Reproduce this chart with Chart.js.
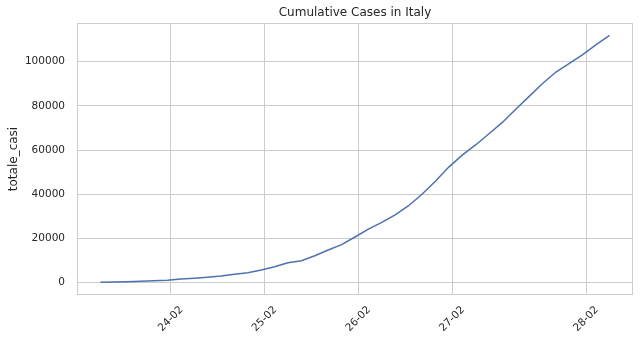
<!DOCTYPE html>
<html>
<head>
<meta charset="utf-8">
<script src="https://cdn.jsdelivr.net/npm/chart.js@4"></script>
<style>
html, body { margin: 0; padding: 0; background: #fff; }
</style>
</head>
<body>
<canvas id="myChart" width="640" height="341"></canvas>
<script>
const dates = [
    '24-02', '25-02', '26-02', '27-02', '28-02', '29-02',
    '01-03', '02-03', '03-03', '04-03', '05-03', '06-03', '07-03', '08-03',
    '09-03', '10-03', '11-03', '12-03', '13-03', '14-03', '15-03', '16-03',
    '17-03', '18-03', '19-03', '20-03', '21-03', '22-03', '23-03', '24-03',
    '25-03', '26-03', '27-03', '28-03', '29-03', '30-03', '31-03',
    '01-04', '02-04',
];
const totaleCasi = [
    200, 300, 400, 600, 850, 1100,
    1650, 2000, 2450, 3000, 3750, 4500, 5750, 7200,
    8950, 9900, 12150, 14750, 17200, 20650, 24200, 27300,
    30700, 34800, 40000, 45900, 52300, 57700, 62300, 67400,
    72500, 78500, 84300, 90100, 95300, 99200, 103200,
    107700, 111900,
];
// tick positions in days from the first sample, labels as printed on the chart
const xTickPositions = [5.25, 12.25, 19.25, 26.25, 36.25];
const xTickLabels = ['24-02', '25-02', '26-02', '27-02', '28-02'];
const yTicks = [0, 20000, 40000, 60000, 80000, 100000];
const chartTitle = 'Cumulative Cases in Italy';

const textColor = '#262626';
const gridColor = '#cccccc';
const fontFamily = '"DejaVu Sans", sans-serif';

// frame, title centred on the plot, and 45deg centred x labels (matplotlib style)
const frameAndLabels = {
    id: 'frameAndLabels',
    afterDraw(chart) {
        const { ctx, chartArea: a } = chart;
        const x = chart.scales.x;
        ctx.save();
        ctx.strokeStyle = gridColor;
        ctx.lineWidth = 1;
        ctx.strokeRect(a.left + 0.5, a.top + 0.5, a.right - a.left - 1, a.bottom - a.top - 1);
        ctx.fillStyle = textColor;
        ctx.textAlign = 'center';
        ctx.textBaseline = 'middle';
        ctx.font = '12px ' + fontFamily;
        ctx.fillText(chartTitle, (a.left + a.right) / 2, 13);
        ctx.font = '10.5px ' + fontFamily;
        x.ticks.forEach((t, i) => {
            const px = x.getPixelForValue(t.value);
            ctx.save();
            ctx.translate(px, a.bottom + 24);
            ctx.rotate(-Math.PI / 4);
            ctx.fillText(xTickLabels[i], 0, 0);
            ctx.restore();
        });
        ctx.restore();
    },
};

const data = {
    datasets: [
        {
            label: 'totale_casi',
            data: totaleCasi.map((v, i) => ({ x: i, y: v })),
            borderColor: '#4c72b0',
            borderWidth: 1.5,
            pointRadius: 0,
            tension: 0,
            fill: false,
        },
    ],
};

const config = {
    type: 'line',
    data: data,
    options: {
        responsive: false,
        animation: false,
        layout: {
            padding: { left: 0, right: 7, top: 23, bottom: 0 },
        },
        plugins: {
            legend: false,
            tooltip: { enabled: false },
            title: { display: false },
        },
        scales: {
            x: {
                type: 'linear',
                min: -1.75,
                max: 39.75,
                afterBuildTicks: (scale) => {
                    scale.ticks = xTickPositions.map((v) => ({ value: v }));
                },
                afterFit: (scale) => {
                    scale.height = 46;
                },
                ticks: { display: false },
                grid: { color: gridColor, drawTicks: false },
                border: { display: false },
            },
            y: {
                min: -5600,
                max: 117500,
                afterBuildTicks: (scale) => {
                    scale.ticks = yTicks.map((v) => ({ value: v }));
                },
                afterFit: (scale) => {
                    scale.width = 77;
                },
                ticks: {
                    color: textColor,
                    padding: 12,
                    font: { family: fontFamily, size: 10.5 },
                    callback: (v) => String(v),
                },
                grid: { color: gridColor, drawTicks: false },
                border: { display: false },
                title: {
                    display: true,
                    text: 'totale_casi',
                    color: textColor,
                    font: { family: fontFamily, size: 12 },
                    padding: { top: 7, bottom: 0 },
                },
            },
        },
    },
    plugins: [frameAndLabels],
};

var myChart = new Chart(document.getElementById('myChart'), config);
</script>
</body>
</html>
